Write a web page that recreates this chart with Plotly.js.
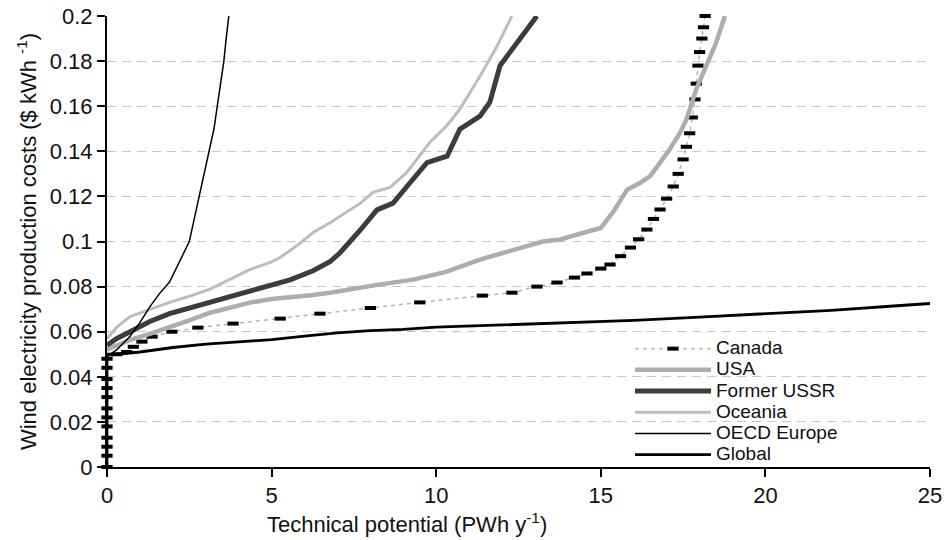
<!DOCTYPE html>
<html><head><meta charset="utf-8">
<script src="https://cdn.plot.ly/plotly-3.0.1.min.js"></script>
<style>html,body{margin:0;padding:0;background:#fff;} #chart{width:951px;height:540px;}</style>
</head><body><div id="chart"></div>
<script>
// ---- data ----
const seriesNames = ['Canada', 'USA', 'Former USSR', 'Oceania', 'OECD Europe', 'Global'];

const canadaX = [0, 0, 0, 0, 0, 0, 0, 0, 0, 0, 0, 0, 0.3, 0.6, 0.8, 1.06, 1.37, 1.97, 2.76, 3.83, 5.26, 6.47, 8.0, 9.5, 11.4, 12.3, 13.06, 13.67, 14.2, 14.58, 15.0, 15.28, 15.6, 15.9, 16.15, 16.4, 16.6, 16.8, 17.0, 17.2, 17.35, 17.5, 17.6, 17.7, 17.78, 17.86, 17.9, 17.95, 18.0, 18.07, 18.12, 18.17];
const canadaY = [0, 0.005, 0.009, 0.013, 0.018, 0.022, 0.026, 0.031, 0.035, 0.039, 0.044, 0.048, 0.05, 0.051, 0.0533, 0.0556, 0.0578, 0.06, 0.0618, 0.0636, 0.0658, 0.068, 0.0705, 0.073, 0.076, 0.0773, 0.08, 0.0818, 0.084, 0.0858, 0.088, 0.0898, 0.0935, 0.0973, 0.101, 0.1053, 0.11, 0.1142, 0.119, 0.1244, 0.13, 0.1364, 0.142, 0.148, 0.155, 0.163, 0.17, 0.178, 0.184, 0.19, 0.195, 0.2];

const usaX = [0, 0.3, 0.7, 1.3, 1.9, 2.5, 3.13, 3.7, 4.34, 5.0, 5.56, 6.2, 6.77, 7.29, 8.3, 9.3, 10.3, 11.33, 12.3, 13.24, 13.76, 14.5, 15.0, 15.37, 15.8, 16.2, 16.5, 16.8, 17.1, 17.4, 17.6, 17.9, 18.2, 18.5, 18.77];
const usaY = [0.052, 0.054, 0.0564, 0.059, 0.0618, 0.065, 0.0684, 0.0705, 0.0729, 0.0745, 0.0751, 0.0762, 0.0773, 0.0787, 0.081, 0.0831, 0.0865, 0.092, 0.096, 0.1, 0.1009, 0.104, 0.106, 0.113, 0.123, 0.126, 0.129, 0.135, 0.141, 0.148, 0.154, 0.1676, 0.178, 0.188, 0.2];

const ussrX = [0, 0.3, 0.7, 1.3, 1.9, 2.5, 3.13, 3.7, 4.34, 5.0, 5.56, 6.26, 6.77, 7.08, 7.4, 7.69, 8.2, 8.69, 9.11, 9.72, 10.33, 10.72, 11.33, 11.63, 11.94, 12.25, 12.55, 12.8, 13.06];
const ussrY = [0.054, 0.057, 0.06, 0.0645, 0.068, 0.0705, 0.073, 0.0755, 0.078, 0.0805, 0.083, 0.087, 0.091, 0.095, 0.1, 0.105, 0.114, 0.117, 0.1244, 0.135, 0.1378, 0.1498, 0.1556, 0.1618, 0.178, 0.184, 0.19, 0.195, 0.2];

const oceaniaX = [0, 0.3, 0.7, 1.3, 1.9, 2.5, 3.1, 3.7, 4.35, 5.0, 5.26, 5.8, 6.26, 6.8, 7.29, 7.7, 8.08, 8.6, 9.11, 9.81, 10.3, 10.72, 11.33, 11.85, 12.3];
const oceaniaY = [0.057, 0.062, 0.0667, 0.07, 0.073, 0.0757, 0.0787, 0.083, 0.0876, 0.091, 0.0929, 0.0985, 0.104, 0.1085, 0.113, 0.117, 0.1218, 0.124, 0.1307, 0.144, 0.151, 0.1587, 0.1733, 0.1867, 0.2];

const oecdX = [0, 0.3, 0.7, 1.0, 1.3, 1.6, 1.9, 2.1, 2.3, 2.5, 2.65, 2.8, 2.95, 3.1, 3.25, 3.35, 3.45, 3.55, 3.62, 3.7];
const oecdY = [0.049, 0.052, 0.058, 0.064, 0.071, 0.077, 0.082, 0.088, 0.094, 0.1, 0.11, 0.12, 0.13, 0.14, 0.15, 0.16, 0.17, 0.18, 0.19, 0.2];

const globalX = [0, 0, 0.3, 1, 2, 3, 4, 5, 6, 7, 8, 9, 10, 12, 14, 15, 16, 18, 20, 22, 24, 25];
const globalY = [0, 0.05, 0.05, 0.051, 0.053, 0.0545, 0.0555, 0.0565, 0.058, 0.0595, 0.0605, 0.061, 0.062, 0.063, 0.064, 0.0645, 0.065, 0.0665, 0.068, 0.0695, 0.0715, 0.0725];

const xTickVals = [0, 5, 10, 15, 20, 25];
const xTickText = ['0', '5', '10', '15', '20', '25'];
const yTickVals = [0, 0.02, 0.04, 0.06, 0.08, 0.1, 0.12, 0.14, 0.16, 0.18, 0.2];
const yTickText = ['0', '0.02', '0.04', '0.06', '0.08', '0.1', '0.12', '0.14', '0.16', '0.18', '0.2'];

const xTitle = 'Technical potential (PWh y<sup>-1</sup>)';
const yTitle = 'Wind electricity production costs ($ kWh <sup>-1</sup>)';

// ---- drawing ----
const FONT = 'Liberation Sans, Arial, sans-serif';
const nm = s => '<span style="font-size:19px">' + s + '</span>';

const traces = [
  {x: canadaX, y: canadaY, name: nm(seriesNames[0]), type: 'scatter', mode: 'lines+markers', cliponaxis: false,
   line: {color: '#b4b4b4', width: 1.5, dash: '4px,4px'},
   marker: {symbol: 'line-ew', size: 8, color: '#000', line: {color: '#000', width: 4}}},
  {x: usaX, y: usaY, name: nm(seriesNames[1]), type: 'scatter', mode: 'lines',
   line: {color: '#adadad', width: 4.5}},
  {x: ussrX, y: ussrY, name: nm(seriesNames[2]), type: 'scatter', mode: 'lines',
   line: {color: '#3c3c3c', width: 5}},
  {x: oceaniaX, y: oceaniaY, name: nm(seriesNames[3]), type: 'scatter', mode: 'lines',
   line: {color: '#bdbdbd', width: 3}},
  {x: oecdX, y: oecdY, name: nm(seriesNames[4]), type: 'scatter', mode: 'lines',
   line: {color: '#000', width: 1.5}},
  {x: globalX, y: globalY, name: nm(seriesNames[5]), type: 'scatter', mode: 'lines',
   line: {color: '#000', width: 2.8}}
];

const layout = {
  width: 951, height: 540,
  margin: {l: 107, r: 21, t: 16, b: 73},
  paper_bgcolor: '#fff', plot_bgcolor: '#fff',
  font: {family: FONT, size: 22, color: '#111'},
  showlegend: true,
  legend: {x: 0.6355, y: 0.297, xanchor: 'left', yanchor: 'top', bgcolor: 'rgba(0,0,0,0)',
           font: {family: FONT, size: 14, color: '#111'}, itemwidth: 76, tracegroupgap: 0},
  xaxis: {range: [0, 25], tickvals: xTickVals, ticktext: xTickText, showgrid: false, zeroline: false,
          showline: true, linecolor: '#000', linewidth: 2, ticks: 'outside', ticklen: 8, tickwidth: 2, tickcolor: '#000',
          tickfont: {family: FONT, size: 22, color: '#111'}, fixedrange: true},
  yaxis: {range: [0, 0.2], tickvals: yTickVals, ticktext: yTickText, showgrid: true, gridcolor: '#c8c8c8', gridwidth: 1,
          griddash: '9px,6px', zeroline: false,
          showline: true, linecolor: '#000', linewidth: 2, ticks: 'outside', ticklen: 8, tickwidth: 2, tickcolor: '#000',
          tickfont: {family: FONT, size: 22, color: '#111'},
          title: {text: yTitle, font: {family: FONT, size: 22, color: '#111'}, standoff: 7}, fixedrange: true},
  annotations: [{text: xTitle, xref: 'paper', yref: 'paper', x: 0.3645, y: -0.088, xanchor: 'center', yanchor: 'top',
                 showarrow: false, font: {family: FONT, size: 22, color: '#111'}}]
};

Plotly.newPlot('chart', traces, layout, {displayModeBar: false, staticPlot: true});
</script>
</body></html>
